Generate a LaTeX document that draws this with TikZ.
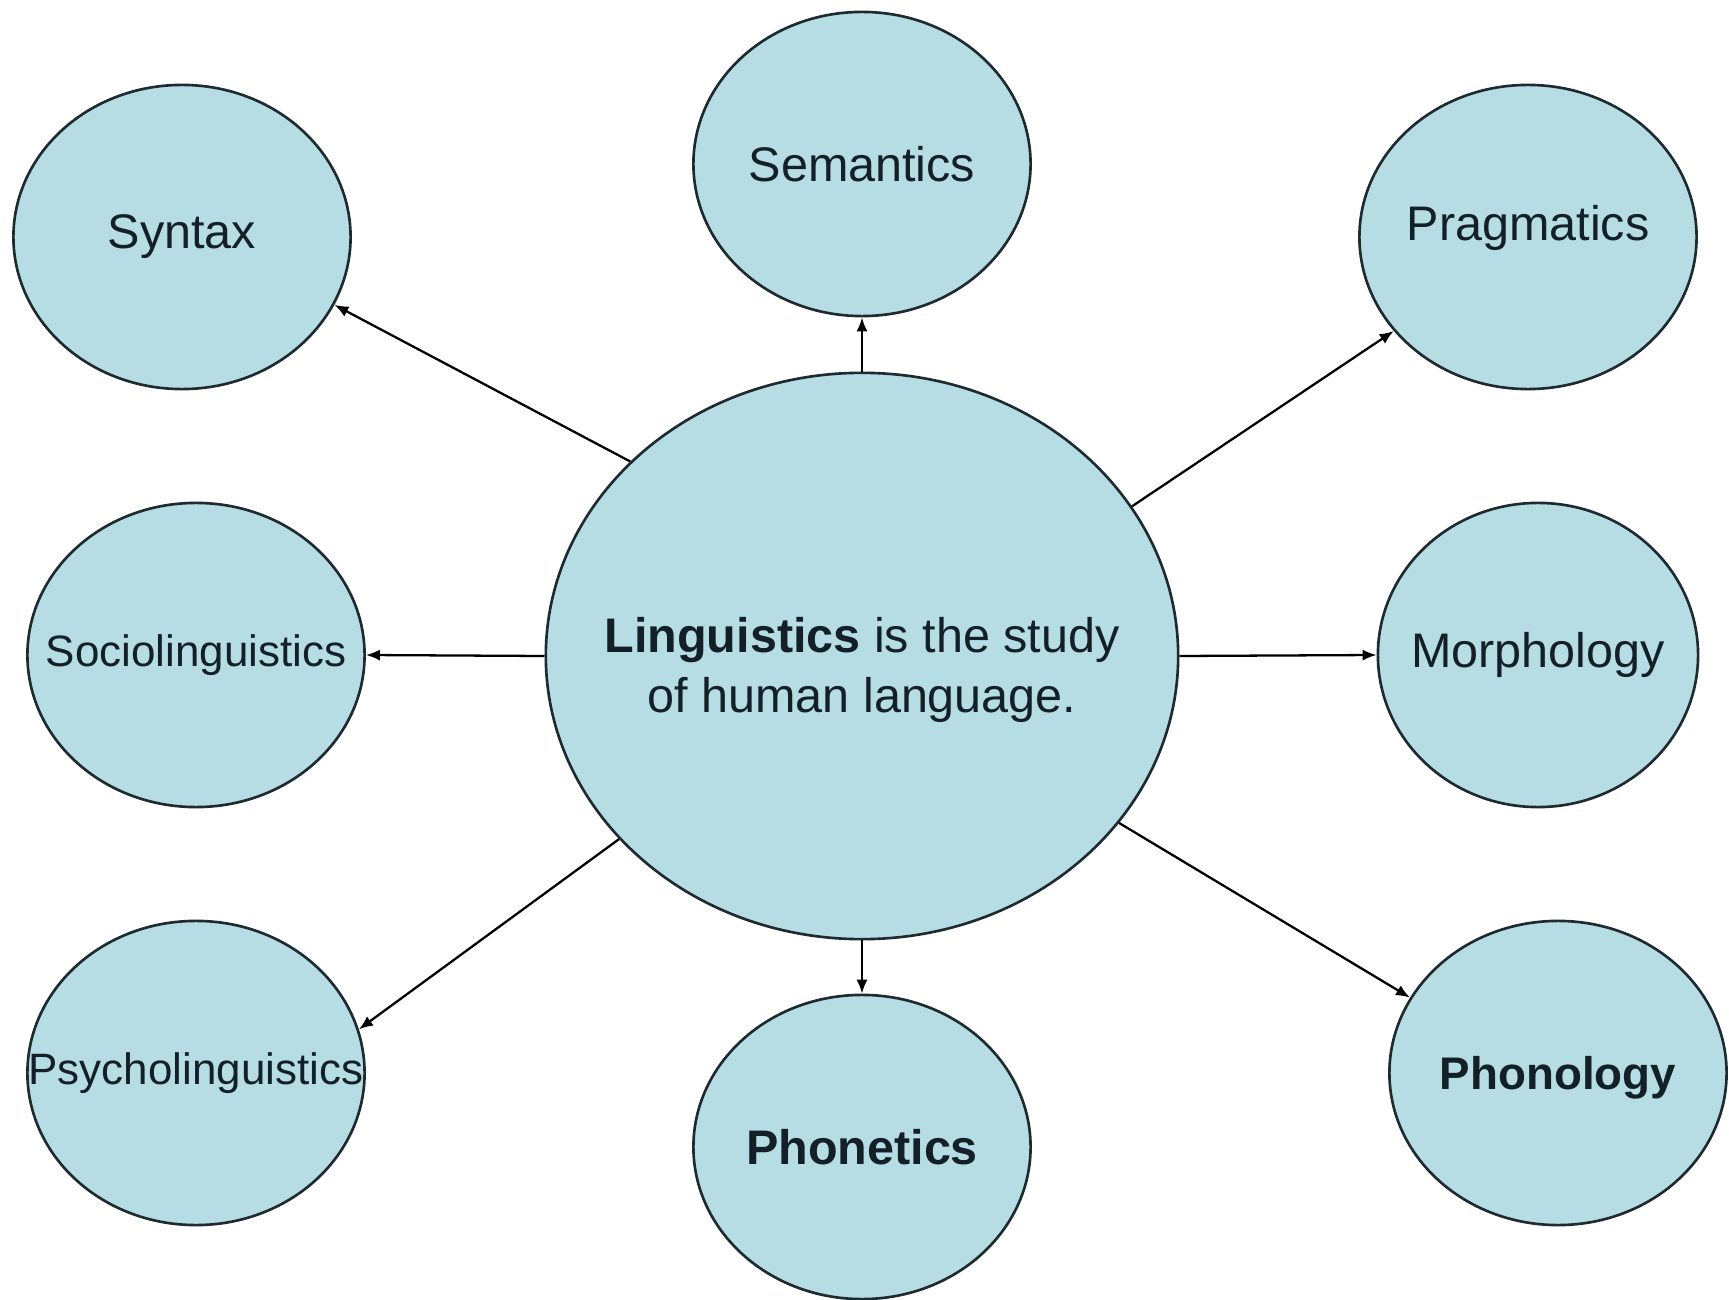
\documentclass[tikz,border=0pt]{standalone}
\usepackage{fontspec}
\setmainfont{Liberation Sans}
\usetikzlibrary{shapes.geometric,arrows.meta}
\definecolor{bubble}{RGB}{183,221,228}
\definecolor{rim}{RGB}{30,42,48}
\definecolor{ink}{RGB}{20,32,40}

\begin{document}
\begin{tikzpicture}[x=0.01cm,y=-0.01cm,
  field/.style={ellipse,draw=rim,line width=0.75pt,fill=bubble,inner sep=0pt,
    minimum width=3.37cm,minimum height=3.04cm},
  fieldtext/.style={text=ink,inner sep=0pt,font=\fontsize{13.8pt}{17pt}\selectfont},
  longword/.style={fieldtext,font=\fontsize{12.5pt}{15pt}\selectfont},
  link/.style={draw=black,line width=0.65pt,-{Latex[length=4pt,width=3.2pt]}}]
\useasboundingbox (0,0) rectangle (1729,1300);

% centre
\node[field,minimum width=6.32cm,minimum height=5.66cm] (ling) at (862,656) {};
\node[fieldtext,align=center] (lingtext) at (862,670)
  {\textbf{Linguistics} is the study\\of human language.};

% fields round it
\node[field,label={[fieldtext]center:Syntax}] (syntax) at (182,237) {};
\node[field,label={[fieldtext]center:Semantics}] (semantics) at (862,164) {};
\node[field,label={[fieldtext,yshift=0.09cm]center:Pragmatics}] (pragmatics) at (1528,237) {};
\node[field,label={[longword]center:Sociolinguistics}] (socio) at (196,655) {};
\node[field,minimum width=3.2cm,label={[fieldtext]center:Morphology}] (morph) at (1538,655) {};
\node[field,label={[longword]center:Psycholinguistics}] (psycho) at (196,1073) {};
\node[field,label={[fieldtext]center:\textbf{Phonetics}}] (phonetics) at (862,1147) {};
\node[field,label={[fieldtext,font=\fontsize{13pt}{15pt}\selectfont,yshift=-0.05cm]center:\textbf{Phonology}}] (phonology) at (1558,1073) {};

% arrows
\draw[link] (ling.140.6) -- (syntax.-24.4);
\draw[link] (ling.north) -- (semantics.south);
\draw[link] (ling.29.3) -- (pragmatics.-145.4);
\draw[link] (ling.west) -- (socio.east);
\draw[link] (ling.east) -- (morph.west);
\draw[link] (ling.217.2) -- (psycho.15.5);
\draw[link] (ling.south) -- (phonetics.north);
\draw[link] (ling.-33.2) -- (phonology.153);

\end{tikzpicture}
\end{document}
